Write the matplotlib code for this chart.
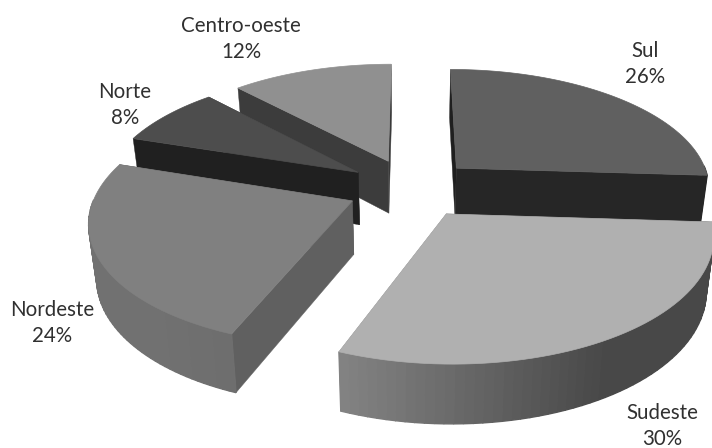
import numpy as np
import matplotlib
matplotlib.use("Agg")
import matplotlib.pyplot as plt

regions = ["Sul", "Sudeste", "Nordeste", "Norte", "Centro-oeste"]
shares = [26, 30, 24, 8, 12]

top_colors = ["#606060", "#b0b0b0", "#808080", "#4d4d4d", "#909090"]
# walls along the starting and ending radius of each slice
start_wall = ["#1f1f1f", "#3a3a3a", "#606060", "#202020", "#3c3c3c"]
end_wall = ["#262626", "#808080", "#404040", "#303030", "#3a3a3a"]
# rim shading, from the right end of the front arc to the left end
rim_right = ["#262626", "#484848", "#5a5a5a", "#2a2a2a", "#444444"]
rim_left = ["#303030", "#848484", "#717171", "#2a2a2a", "#444444"]
label_pos = [(645, 64), (662, 426), (52, 323), (125, 105), (241, 39)]

# projection settings of the tilted pie
cx, cy = 411, 188
rx, ry = 255, 119
persp = 0.15
depth = 53
explode = 0.25
base_shrink = 0.975


def project(px, py, lower=False):
    f = 1 / (1 + persp * py)
    sx = cx + rx * px * f
    sy = cy - ry * py * f
    if lower:
        sx = cx + (sx - cx) * base_shrink
        sy = sy + depth * f ** 0.6
    return sx, sy


def hex_rgb(c):
    return np.array(matplotlib.colors.to_rgb(c))


def draw_slice(ax, a0, a1, i):
    mid = np.radians((a0 + a1) / 2)
    ox, oy = explode * np.sin(mid), explode * np.cos(mid)
    ang = np.radians(np.linspace(a0, a1, 60))
    px = ox + np.sin(ang)
    py = oy + np.cos(ang)

    # radial walls, the one reaching further back goes first
    walls = [(0, start_wall[i]), (-1, end_wall[i])]
    walls.sort(key=lambda w: -py[w[0]])
    for edge, col in walls:
        t = [project(ox, oy), project(px[edge], py[edge])]
        b = [project(ox, oy, True), project(px[edge], py[edge], True)]
        ax.fill(*zip(t[0], t[1], b[1], b[0]), color=col, lw=0.3)

    # rim is only seen on the near half
    c_r, c_l = hex_rgb(rim_right[i]), hex_rgb(rim_left[i])
    for j in range(len(ang) - 1):
        if np.cos(ang[j]) > 0.0 and np.cos(ang[j + 1]) > 0.0:
            continue
        frac = np.clip((np.degrees(ang[j]) - 90) / 130, 0, 1)
        if i == 1:
            frac = 1 - np.clip((project(px[j], py[j])[0] - 340) / 270, 0, 1)
        col = c_r + (c_l - c_r) * frac
        t0, t1 = project(px[j], py[j]), project(px[j + 1], py[j + 1])
        b0, b1 = project(px[j], py[j], True), project(px[j + 1], py[j + 1], True)
        ax.fill(*zip(t0, t1, b1, b0), color=col, lw=1.0)

    sx, sy = project(np.r_[ox, px], np.r_[oy, py])
    ax.fill(sx, sy, color=top_colors[i], lw=0.5)


fig = plt.figure(figsize=(7.12, 4.48), dpi=100)
ax = fig.add_axes([0, 0, 1, 1])
ax.set_xlim(0, 712)
ax.set_ylim(448, 0)
ax.axis("off")

edges = np.r_[0, np.cumsum(shares)] * 360 / sum(shares)

# back to front
for i in [4, 0, 3, 2, 1]:
    draw_slice(ax, edges[i], edges[i + 1], i)

for name, val, (lx, ly) in zip(regions, shares, label_pos):
    ax.text(lx, ly, f"{name}\n{val}%", ha="center", va="center", family="Lato",
            fontsize=14.8, color="#303030", linespacing=1.42)

fig.savefig("out.png", dpi=100)
